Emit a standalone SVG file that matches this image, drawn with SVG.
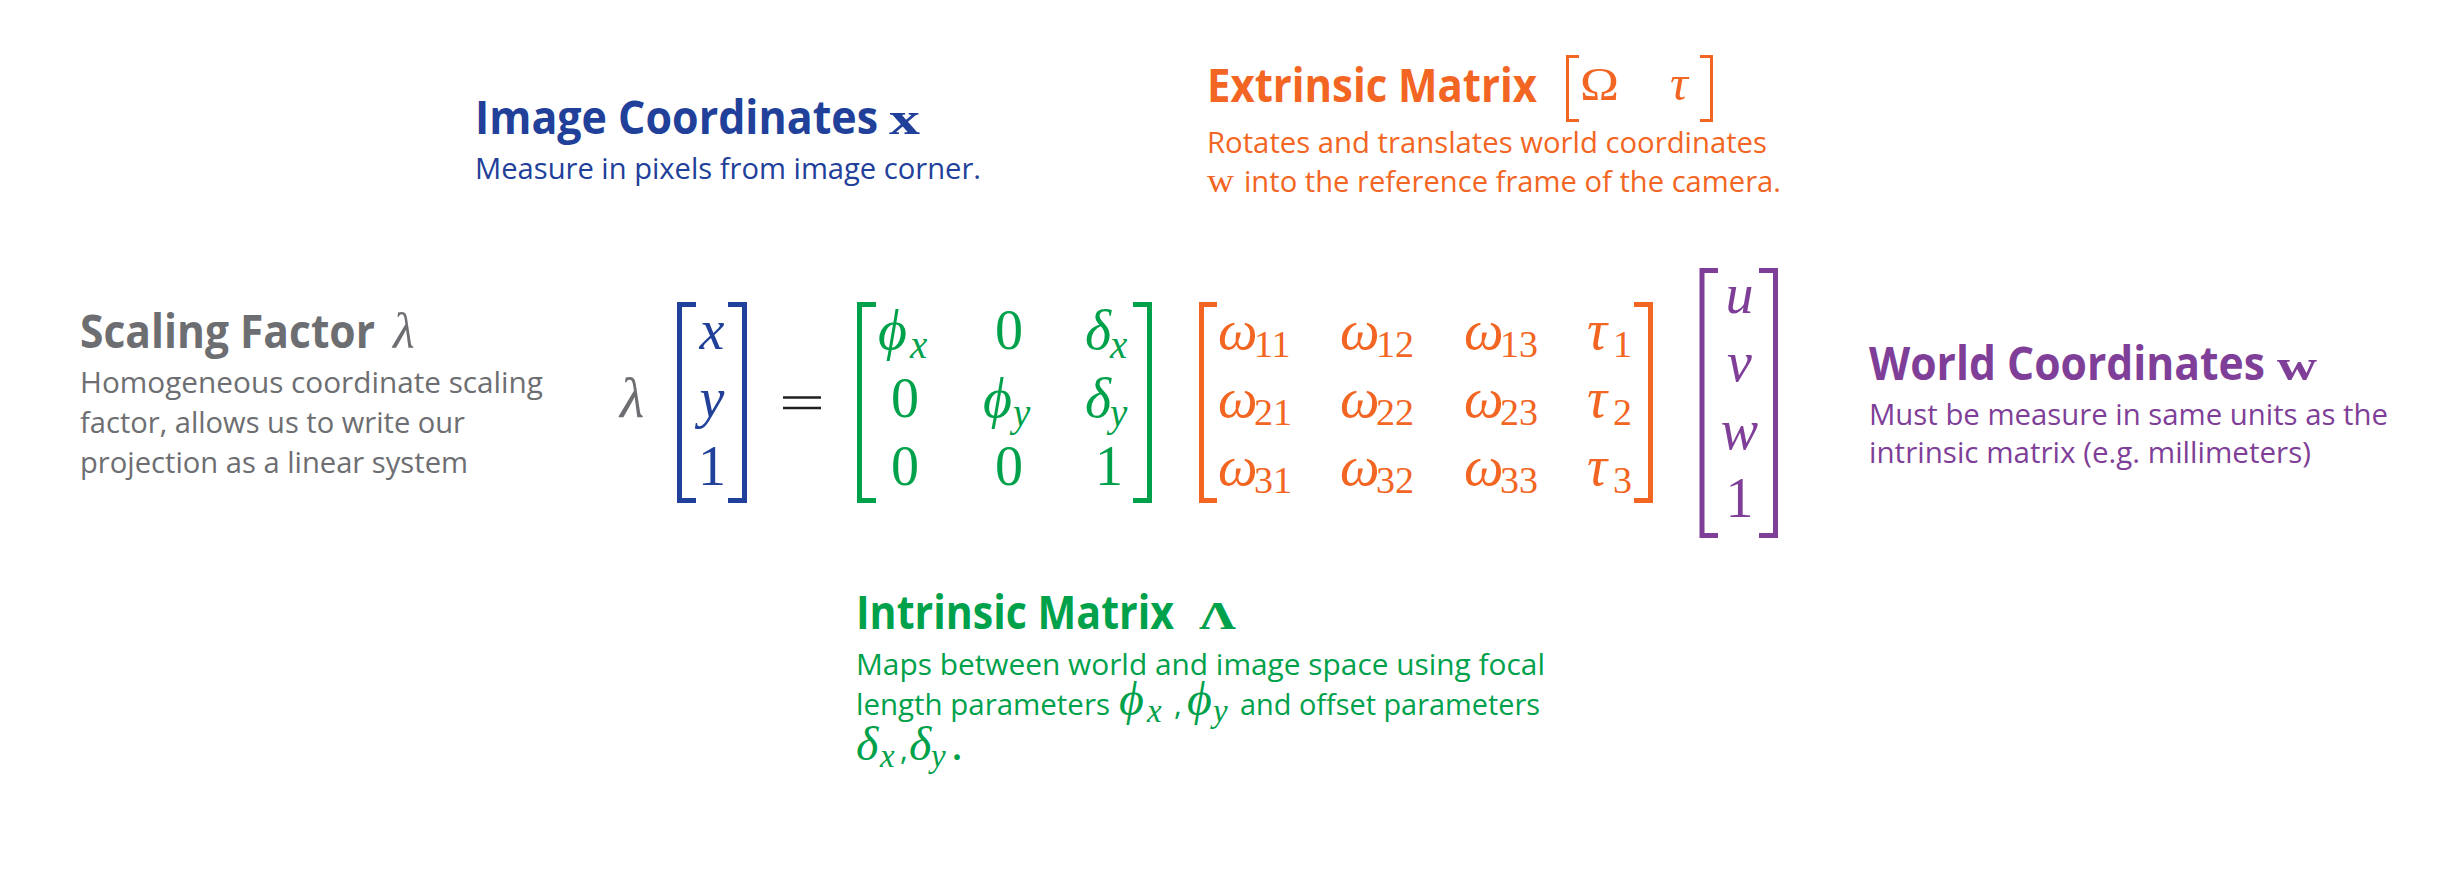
<svg xmlns="http://www.w3.org/2000/svg" width="2461" height="875" viewBox="0 0 2461 875">
<style>
.t{font-family:"Open Sans","Noto Sans",sans-serif;font-weight:700;font-size:46px}
.b{font-family:"Open Sans","Noto Sans",sans-serif;font-weight:400;font-size:30px}
.m{font-family:"Liberation Serif","DejaVu Serif",serif;font-style:italic}
.r{font-family:"Liberation Serif","DejaVu Serif",serif;font-style:normal}
.mx{font-size:56px}
.s{font-size:39px}
.sd{font-size:38px}
.bf{font-family:"Liberation Serif","DejaVu Serif",serif;font-weight:700}
.blue{fill:#21409a}.orange{fill:#f26522}.gray{fill:#6d6e71}.green{fill:#00a14b}.purple{fill:#7f3f98}
.br{fill:none;stroke-width:5}
.sb{stroke:#21409a}.sg{stroke:#00a14b}.so{stroke:#f26522}.sp{stroke:#7f3f98}
</style>
<rect width="2461" height="875" fill="#ffffff"/>

<g id="node-image-coordinates" class="blue">
  <text class="t" x="475" y="134" textLength="403" lengthAdjust="spacingAndGlyphs">Image Coordinates</text>
  <text class="bf" x="889" y="134" style="font-size:46px" textLength="31" lengthAdjust="spacingAndGlyphs">x</text>
  <text class="b" x="475" y="179" textLength="506" lengthAdjust="spacingAndGlyphs">Measure in pixels from image corner.</text>
</g>

<g id="node-extrinsic-matrix" class="orange">
  <text class="t" x="1207" y="102" textLength="330" lengthAdjust="spacingAndGlyphs">Extrinsic Matrix</text>
  <path d="M1579 56.5 H1567.5 V120.5 H1579 M1700 56.5 H1711.5 V120.5 H1700" fill="none" stroke="#f26522" stroke-width="3"/>
  <text class="r" x="1580" y="100" style="font-size:46px" textLength="39" lengthAdjust="spacingAndGlyphs">Ω</text>
  <text class="m" x="1670" y="100" style="font-size:50px">τ</text>
  <text class="b" x="1207" y="153" textLength="560" lengthAdjust="spacingAndGlyphs">Rotates and translates world coordinates</text>
  <text class="r" x="1207" y="192" style="font-size:33px" textLength="27" lengthAdjust="spacingAndGlyphs">w</text>
  <text class="b" x="1244" y="192" textLength="537" lengthAdjust="spacingAndGlyphs">into the reference frame of the camera.</text>
</g>

<g id="node-scaling-factor" class="gray">
  <text class="t" x="80" y="348" textLength="295" lengthAdjust="spacingAndGlyphs">Scaling Factor</text>
  <text class="m" x="393" y="348" style="font-size:50px">λ</text>
  <text class="b" x="80" y="393" textLength="463" lengthAdjust="spacingAndGlyphs">Homogeneous coordinate scaling</text>
  <text class="b" x="80" y="433" textLength="385" lengthAdjust="spacingAndGlyphs">factor, allows us to write our</text>
  <text class="b" x="80" y="473" textLength="388" lengthAdjust="spacingAndGlyphs">projection as a linear system</text>
</g>

<g id="node-world-coordinates" class="purple">
  <text class="t" x="1869" y="380" textLength="396" lengthAdjust="spacingAndGlyphs">World Coordinates</text>
  <text class="bf" x="2277" y="380" style="font-size:44px" textLength="40" lengthAdjust="spacingAndGlyphs">w</text>
  <text class="b" x="1869" y="425" textLength="519" lengthAdjust="spacingAndGlyphs">Must be measure in same units as the</text>
  <text class="b" x="1869" y="463" textLength="442" lengthAdjust="spacingAndGlyphs">intrinsic matrix (e.g. millimeters)</text>
</g>

<g id="node-intrinsic-matrix" class="green">
  <text class="t" x="856" y="629" textLength="318" lengthAdjust="spacingAndGlyphs">Intrinsic Matrix</text>
  <text class="bf" x="1199" y="629" style="font-size:40px" textLength="37" lengthAdjust="spacingAndGlyphs">Λ</text>
  <text class="b" x="856" y="675" textLength="689" lengthAdjust="spacingAndGlyphs">Maps between world and image space using focal</text>
  <text class="b" x="856" y="715" textLength="254" lengthAdjust="spacingAndGlyphs">length parameters</text>
  <text class="m" x="1119" y="715" style="font-size:48px">ϕ</text>
  <text class="m" x="1147" y="722" style="font-size:33px">x</text>
  <text class="b" x="1174" y="715">,</text>
  <text class="m" x="1187" y="715" style="font-size:48px">ϕ</text>
  <text class="m" x="1213" y="722" style="font-size:33px">y</text>
  <text class="b" x="1240" y="715" textLength="300" lengthAdjust="spacingAndGlyphs">and offset parameters</text>
  <text class="m" x="856" y="760" style="font-size:48px">δ</text>
  <text class="m" x="880" y="767" style="font-size:33px">x</text>
  <text class="b" x="900" y="760">,</text>
  <text class="m" x="909" y="760" style="font-size:48px">δ</text>
  <text class="m" x="931" y="767" style="font-size:33px">y</text>
  <text class="r" x="951" y="760" style="font-size:48px">.</text>
</g>

<g id="node-equation">
  <text class="m mx gray" x="620" y="417">λ</text>

  <g id="vector-image" class="blue">
    <path class="br sb" d="M696 304.5 H679.5 V500.5 H696 M728 304.5 H744.5 V500.5 H728"/>
    <text class="m mx" x="712" y="349" text-anchor="middle">x</text>
    <text class="m mx" x="712" y="417" text-anchor="middle">y</text>
    <text class="r mx" x="712" y="485" text-anchor="middle">1</text>
  </g>

  <path id="equals" d="M783 397.5 H821 M783 408 H821" stroke="#231f20" stroke-width="2.5" fill="none"/>

  <g id="matrix-intrinsic" class="green">
    <path class="br sg" d="M876 304.5 H859.5 V500.5 H876 M1133 304.5 H1149.5 V500.5 H1133"/>
    <text class="m mx" x="878" y="349">ϕ</text><text class="m s" x="910" y="358">x</text>
    <text class="r mx" x="1009" y="349" text-anchor="middle">0</text>
    <text class="m mx" x="1085" y="349">δ</text><text class="m s" x="1110" y="358">x</text>
    <text class="r mx" x="905" y="417" text-anchor="middle">0</text>
    <text class="m mx" x="983" y="417">ϕ</text><text class="m s" x="1013" y="426">y</text>
    <text class="m mx" x="1085" y="417">δ</text><text class="m s" x="1110" y="426">y</text>
    <text class="r mx" x="905" y="485" text-anchor="middle">0</text>
    <text class="r mx" x="1009" y="485" text-anchor="middle">0</text>
    <text class="r mx" x="1109" y="485" text-anchor="middle">1</text>
  </g>

  <g id="matrix-extrinsic" class="orange">
    <path class="br so" d="M1217 304.5 H1201.5 V500.5 H1217 M1634 304.5 H1650.5 V500.5 H1634"/>
    <text class="m mx" x="1218" y="349">ω</text><text class="r sd" x="1254" y="357">11</text>
    <text class="m mx" x="1340" y="349">ω</text><text class="r sd" x="1376" y="357">12</text>
    <text class="m mx" x="1464" y="349">ω</text><text class="r sd" x="1500" y="357">13</text>
    <text class="m mx" x="1587" y="349">τ</text><text class="r sd" x="1613" y="357">1</text>
    <text class="m mx" x="1218" y="417">ω</text><text class="r sd" x="1254" y="425">21</text>
    <text class="m mx" x="1340" y="417">ω</text><text class="r sd" x="1376" y="425">22</text>
    <text class="m mx" x="1464" y="417">ω</text><text class="r sd" x="1500" y="425">23</text>
    <text class="m mx" x="1587" y="417">τ</text><text class="r sd" x="1613" y="425">2</text>
    <text class="m mx" x="1218" y="485">ω</text><text class="r sd" x="1254" y="493">31</text>
    <text class="m mx" x="1340" y="485">ω</text><text class="r sd" x="1376" y="493">32</text>
    <text class="m mx" x="1464" y="485">ω</text><text class="r sd" x="1500" y="493">33</text>
    <text class="m mx" x="1587" y="485">τ</text><text class="r sd" x="1613" y="493">3</text>
  </g>

  <g id="vector-world" class="purple">
    <path class="br sp" d="M1718 270.5 H1702 V535.5 H1718 M1759 270.5 H1775.5 V535.5 H1759"/>
    <text class="m mx" x="1739.5" y="313" text-anchor="middle">u</text>
    <text class="m mx" x="1739.5" y="381" text-anchor="middle">v</text>
    <text class="m mx" x="1739.5" y="449" text-anchor="middle">w</text>
    <text class="r mx" x="1739.5" y="517" text-anchor="middle">1</text>
  </g>
</g>

<g id="connectors"/>
</svg>
